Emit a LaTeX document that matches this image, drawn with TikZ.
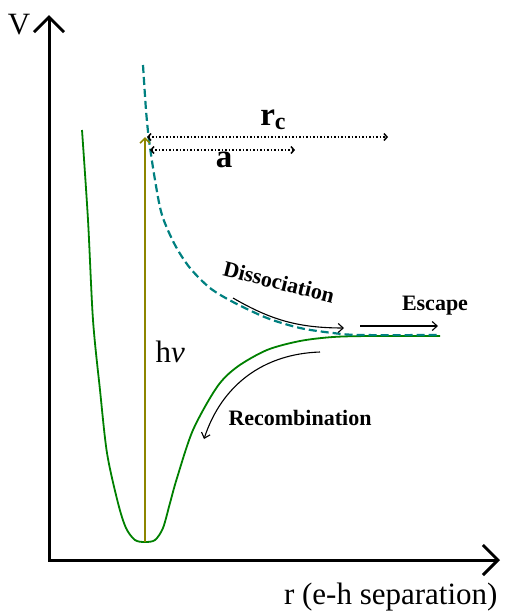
\documentclass[tikz,border=0pt]{standalone}
\usepackage{fontspec}
\setmainfont{Liberation Serif}
\usetikzlibrary{arrows.meta}
\colorlet{zielony}{green!50!black}
\begin{document}
\begin{tikzpicture}[x=1pt, y=-1pt,
        etykieta/.style={font=\fontsize{31}{36}\selectfont},
        opis/.style={font=\bfseries\fontsize{22}{26}\selectfont},
        strzalka/.style={-{Straight Barb[length=5pt,width=9pt]}, line width=1.1pt},
        kropki/.style={{Straight Barb[length=3pt,width=7pt]}-{Straight Barb[length=3pt,width=7pt]}, line width=1.5pt, dotted}]
        \useasboundingbox (0,0) rectangle (505,611);

        % Osie (V oraz r)
        \coordinate (Vtip) at (49,15);
        \coordinate (O) at (49,560);
        \coordinate (rtip) at (500,560);
        \draw[line width=3pt, {Straight Barb[length=15pt,width=30pt]}-{Straight Barb[length=15pt,width=30pt]}] (Vtip) -- (O) -- (rtip);
        \node[etykieta] (V) at (19,25) {V};
        \node[etykieta, anchor=base east] (r) at (501,604) {r (e-h separation)};

        % Krzywa stanu zwiazanego
        \draw[zielony, line width=1.8pt] plot[smooth] coordinates {(82,130) (88,220) (93,320) (100,390) (107,453) (118,503) (126,528) (135,540) (145,542) (155,540) (163,528) (170,503) (177,478) (193,430) (217,387) (237,367) (267,350) (300,341) (333,337) (370,336) (440,336)};

        % Krzywa stanu rozdzielonego (przerywana)
        \draw[teal, line width=2.2pt, dash pattern=on 8pt off 4pt] plot[smooth] coordinates {(143,65) (146,110) (149,140) (155,180) (162,215) (175,245) (190,268) (210,288) (233,302) (267,318) (300,328) (333,333) (360,335) (440,335)};

        % Wzbudzenie h nu
        \coordinate (dno) at (145,542);
        \coordinate (wzbudz) at (145,137);
        \draw[olive, line width=1.6pt, -{Straight Barb[length=5pt,width=10pt]}] (dno) -- (wzbudz);
        \node[etykieta, anchor=west] (hv) at (152,352) {h\textit{ν}};

        % Odleglosci r_c i a
        \coordinate (rc0) at (147,137);
        \coordinate (rc1) at (388,137);
        \coordinate (a0) at (150,150);
        \coordinate (a1) at (295,150);
        \draw[kropki] (rc0) -- (rc1);
        \draw[kropki] (a0) -- (a1);
        \node[font=\bfseries\fontsize{33}{38}\selectfont] (rc) at (273,120) {r\raisebox{-0.3ex}{\fontsize{24}{24}\selectfont c}};
        \node[font=\bfseries\fontsize{33}{38}\selectfont] (a) at (224,160) {a};

        % Procesy
        \coordinate (d0) at (233,298);
        \coordinate (d1) at (344,328);
        \draw[strzalka] (d0) to[bend right=15] (d1);
        \node[opis, rotate=-14, inner sep=1pt] (dys) at (279,282) {Dissociation};
        \coordinate (e0) at (360,326);
        \coordinate (e1) at (438,326);
        \draw[strzalka] (e0) -- (e1);
        \node[opis] (esc) at (435,306) {Escape};
        \coordinate (k0) at (320,352);
        \coordinate (k1) at (204,439);
        \draw[strzalka] (k0) to[bend right=35] (k1);
        \node[opis] (rek) at (300,418) {Recombination};
\end{tikzpicture}
\end{document}
